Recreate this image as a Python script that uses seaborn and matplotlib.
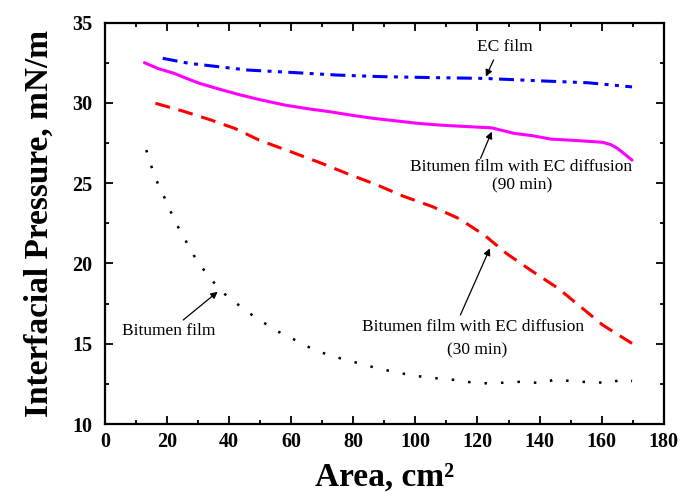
import matplotlib
matplotlib.use("Agg")
import matplotlib.pyplot as plt
import seaborn as sns
import pandas as pd
from matplotlib.ticker import MultipleLocator

# ---- data ----
ec_x = [18.6, 27, 46, 60.3, 74.6, 88.9, 105.5, 122.2, 141.2, 155.5, 169.8]
ec_y = [32.78, 32.47, 32.05, 31.9, 31.74, 31.64, 31.58, 31.53, 31.37, 31.26, 31.0]

d90_x = [12.7, 17, 22.2, 26, 30.5, 37, 43.6, 50, 57.9, 65, 72.2, 80, 86.5, 93, 100.8,
         108, 117.4, 124.6, 131.7, 138, 143.6, 150, 155, 160.3, 163, 165.1, 167.5, 169.8]
d90_y = [32.51, 32.15, 31.85, 31.55, 31.22, 30.85, 30.5, 30.2, 29.87, 29.65, 29.46, 29.22,
         29.04, 28.9, 28.73, 28.62, 28.52, 28.45, 28.11, 27.95, 27.75, 27.68, 27.62, 27.55,
         27.4, 27.17, 26.8, 26.44]

d30_x = [16.25, 25, 34.1, 42, 49.6, 60, 69.8, 78, 87.7, 96, 105.5, 114, 122.2, 129.3,
         137, 146, 153.2, 160.3, 169.8]
d30_y = [29.98, 29.5, 28.94, 28.4, 27.69, 26.95, 26.24, 25.6, 24.89, 24.2, 23.54, 22.8,
         21.77, 20.63, 19.6, 18.45, 17.31, 16.17, 15.02]

bit_x = [13.3, 14.8, 16.6, 18.9, 21.0, 23.4, 26.0, 28.75, 30.3, 33.9, 38.0, 42.8, 47.8,
         52.3, 57.1, 62.4, 67.4, 72.2, 77.6, 82.7, 87.7, 93.3, 98.4, 103.5, 108.3, 113.3,
         118.0, 123.2, 128.2, 134.7, 141.2, 144.8, 151.9, 159.1, 162.7, 166.2, 169.8]
bit_y = [27.07, 26.13, 25.16, 24.22, 23.29, 22.33, 21.42, 20.46, 20.0, 19.07, 18.18, 17.45,
         16.73, 16.17, 15.61, 15.13, 14.61, 14.3, 13.99, 13.74, 13.47, 13.24, 13.05, 12.91,
         12.82, 12.74, 12.59, 12.53, 12.57, 12.64, 12.53, 12.78, 12.64, 12.59, 12.53, 12.78,
         12.68]

x_ticks = [0, 20, 40, 60, 80, 100, 120, 140, 160, 180]
y_ticks = [10, 15, 20, 25, 30, 35]

# ---- style ----
sns.set_style("ticks")
plt.rcParams["font.family"] = ["Liberation Serif", "DejaVu Serif"]
plt.rcParams["text.color"] = "black"
plt.rcParams["axes.labelcolor"] = "black"
plt.rcParams["xtick.color"] = "black"
plt.rcParams["ytick.color"] = "black"
plt.rcParams["axes.edgecolor"] = "black"

fig = plt.figure(figsize=(6.81, 5.0), dpi=100)
ax = fig.add_axes([105 / 681, 1 - 424 / 500, (663.7 - 105) / 681, (424 - 22.7) / 500])

def draw(x, y, color, ls, lw):
    df = pd.DataFrame({"Area": x, "Pressure": y})
    sns.lineplot(data=df, x="Area", y="Pressure", ax=ax, color=color,
                 linestyle=ls, linewidth=lw, estimator=None, sort=False,
                 legend=False)
    ax.lines[-1].set_dash_capstyle("butt")

draw(ec_x, ec_y, "#0000ff", (0, (4.9, 2.1, 1.3, 2.1, 1.3, 2.1)), 2.2)
draw(d90_x, d90_y, "#ff00ff", "-", 2.2)
draw(d30_x, d30_y, "#ff0000", (0, (4.9, 2.9)), 2.2)
draw(bit_x, bit_y, "black", (0, (1.0, 5.6)), 1.8)

ax.set_xlim(0, 180)
ax.set_ylim(10, 35)
ax.set_xticks(x_ticks)
ax.set_yticks(y_ticks)
ax.xaxis.set_minor_locator(MultipleLocator(10))
ax.yaxis.set_minor_locator(MultipleLocator(2.5))
ax.tick_params(which="both", direction="in", top=True, right=True, width=1.3,
               labelsize=14.5, color="black", labelcolor="black")
ax.tick_params(which="major", length=6, pad=6)
ax.tick_params(which="minor", length=3)
ax.tick_params(axis="y", which="major", pad=9)
for lab in ax.get_xticklabels() + ax.get_yticklabels():
    lab.set_fontweight("bold")
for s in ax.spines.values():
    s.set_linewidth(1.6)
    s.set_color("black")
    s.set_visible(True)

ax.set_xlabel("Area, cm²", fontsize=24, fontweight="bold", color="black")
ax.set_ylabel("Interfacial Pressure, mN/m", fontsize=24, fontweight="bold", color="black")
ax.xaxis.set_label_coords(0.5, -0.095)
ax.yaxis.set_label_coords(-0.09, 0.5)

# ---- annotations ----
arrow = dict(arrowstyle="-|>", color="black", lw=0.9, mutation_scale=10,
             shrinkA=0, shrinkB=0)
tfs = 12.5
ax.text(128.8, 33.47, "EC film", fontsize=tfs, ha="center", va="center")
ax.annotate("", xy=(122.7, 31.64), xytext=(125.2, 32.68), arrowprops=arrow)

ax.text(134.1, 26.03, "Bitumen film with EC diffusion", fontsize=tfs, ha="center", va="center")
ax.text(134.4, 24.84, "(90 min)", fontsize=tfs, ha="center", va="center")
ax.annotate("", xy=(124.6, 28.21), xytext=(121.0, 26.55), arrowprops=arrow)

ax.text(118.6, 16.06, "Bitumen film with EC diffusion", fontsize=tfs, ha="center", va="center")
ax.text(119.8, 14.6, "(30 min)", fontsize=tfs, ha="center", va="center")
ax.annotate("", xy=(124.0, 20.94), xytext=(114.5, 16.79), arrowprops=arrow)

ax.text(20.4, 15.81, "Bitumen film", fontsize=tfs, ha="center", va="center")
ax.annotate("", xy=(36.3, 18.24), xytext=(25.2, 16.48), arrowprops=arrow)

fig.savefig("out.png", dpi=100)
